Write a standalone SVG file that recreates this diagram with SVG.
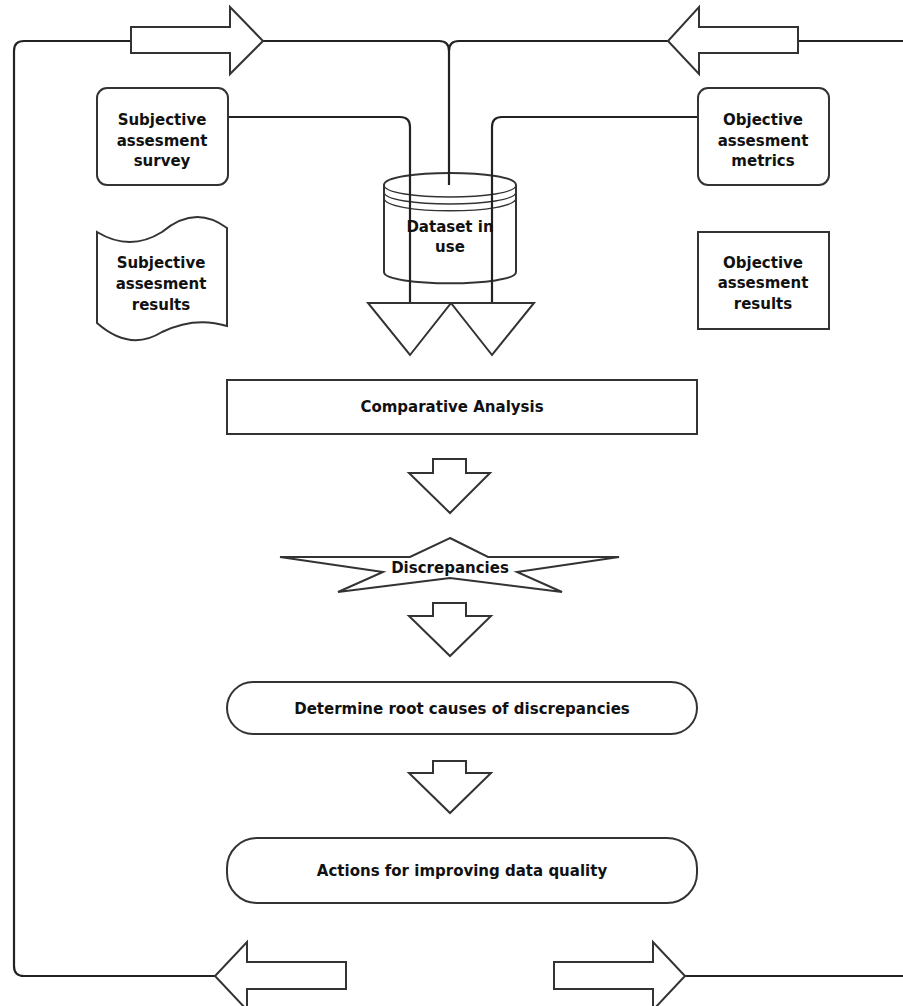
<svg xmlns="http://www.w3.org/2000/svg" width="903" height="1006" viewBox="0 0 903 1006">
  <style>
    .shape { fill: #ffffff; stroke: #333333; stroke-width: 2; stroke-linejoin: miter; }
    .thin { fill: none; stroke: #333333; stroke-width: 1.3; }
    .wire { fill: none; stroke: #222222; stroke-width: 2.2; }
    .label { font-family: "DejaVu Sans", "Liberation Sans", sans-serif; font-weight: bold; font-size: 15px; fill: #111111; text-anchor: middle; }
  </style>
  <rect width="903" height="1006" fill="#ffffff"/>

  <!-- dataset cylinder (drawn below the connectors that cross it) -->
  <g id="dataset">
    <path class="shape" d="M384,185 C384,169 516,169 516,185 L516,272 C516,287 384,287 384,272 Z"/>
    <path class="thin" d="M384,185 C384,201 516,201 516,185"/>
    <path class="thin" d="M384,192 C384,208 516,208 516,192"/>
    <path class="thin" d="M384,198 C384,215 516,215 516,198"/>
  </g>

  <!-- connectors -->
  <g id="connectors">
    <!-- feedback loop, left side -->
    <path class="wire" d="M215,976 L24,976 Q14,976 14,966 L14,51 Q14,41 24,41 L131,41"/>
    <!-- into the dataset from the top -->
    <path class="wire" d="M263,41 L439,41 Q449,41 449,51 L449,185"/>
    <path class="wire" d="M668,41 L459,41 Q449,41 449,51"/>
    <!-- feedback loop, right side -->
    <path class="wire" d="M798,41 L903,41"/>
    <path class="wire" d="M685,976 L903,976"/>
    <!-- assessments down through the dataset -->
    <path class="wire" d="M228,117 L400,117 Q410,117 410,127 L410,303"/>
    <path class="wire" d="M698,117 L502,117 Q492,117 492,127 L492,303"/>
  </g>

  <g id="dataset-label">
    <text class="label" x="450" y="232">Dataset in</text>
    <text class="label" x="450" y="252">use</text>
  </g>

  <!-- block arrows of the loop -->
  <g id="arrow-top-left">
    <polygon class="shape" points="131,27 230,27 230,7 263,41 230,74 230,53 131,53"/>
  </g>
  <g id="arrow-top-right">
    <polygon class="shape" points="798,27 699,27 699,7 668,41 699,74 699,53 798,53"/>
  </g>
  <g id="arrow-bottom-left">
    <polygon class="shape" points="346,962 247,962 247,942 215,976 247,1010 247,989 346,989"/>
  </g>
  <g id="arrow-bottom-right">
    <polygon class="shape" points="554,962 653,962 653,942 685,976 653,1010 653,989 554,989"/>
  </g>

  <g id="survey">
    <rect class="shape" x="97" y="88" width="131" height="97" rx="10"/>
    <text class="label" x="162" y="125">Subjective</text>
    <text class="label" x="162" y="146">assesment</text>
    <text class="label" x="162" y="166">survey</text>
  </g>

  <g id="metrics">
    <rect class="shape" x="698" y="88" width="131" height="97" rx="10"/>
    <text class="label" x="763" y="125">Objective</text>
    <text class="label" x="763" y="146">assesment</text>
    <text class="label" x="763" y="166">metrics</text>
  </g>

  <g id="subjective-results">
    <path class="shape" d="M97,232 Q130,252 162,232 Q195,204 227,228 L227,326 Q195,316 162,332 Q130,352 97,323 Z"/>
    <text class="label" x="161" y="268">Subjective</text>
    <text class="label" x="161" y="289">assesment</text>
    <text class="label" x="161" y="310">results</text>
  </g>

  <g id="objective-results">
    <rect class="shape" x="698" y="232" width="131" height="97"/>
    <text class="label" x="763" y="268">Objective</text>
    <text class="label" x="763" y="288">assesment</text>
    <text class="label" x="763" y="309">results</text>
  </g>

  <g id="merge">
    <polygon class="shape" points="368,303 451,303 410,355"/>
    <polygon class="shape" points="451,303 534,303 492,355"/>
  </g>

  <g id="comparative-analysis">
    <rect class="shape" x="227" y="380" width="470" height="54"/>
    <text class="label" x="452" y="412">Comparative Analysis</text>
  </g>

  <g id="arrow-down-1">
    <polygon class="shape" points="433,459 466,459 466,473 490,473 450,513 409,473 433,473"/>
  </g>

  <g id="discrepancies">
    <polygon class="shape" points="450,538 488,557 619,557 517,572 562,592 450,578 338,592 383,572 280,557 410,557"/>
    <text class="label" x="450" y="573">Discrepancies</text>
  </g>

  <g id="arrow-down-2">
    <polygon class="shape" points="433,603 466,603 466,616 491,616 450,656 409,616 433,616"/>
  </g>

  <g id="root-causes">
    <rect class="shape" x="227" y="682" width="470" height="52" rx="26"/>
    <text class="label" x="462" y="714">Determine root causes of discrepancies</text>
  </g>

  <g id="arrow-down-3">
    <polygon class="shape" points="433,761 466,761 466,773 491,773 450,813 409,773 433,773"/>
  </g>

  <g id="actions">
    <rect class="shape" x="227" y="838" width="470" height="65" rx="30"/>
    <text class="label" x="462" y="876">Actions for improving data quality</text>
  </g>
</svg>
